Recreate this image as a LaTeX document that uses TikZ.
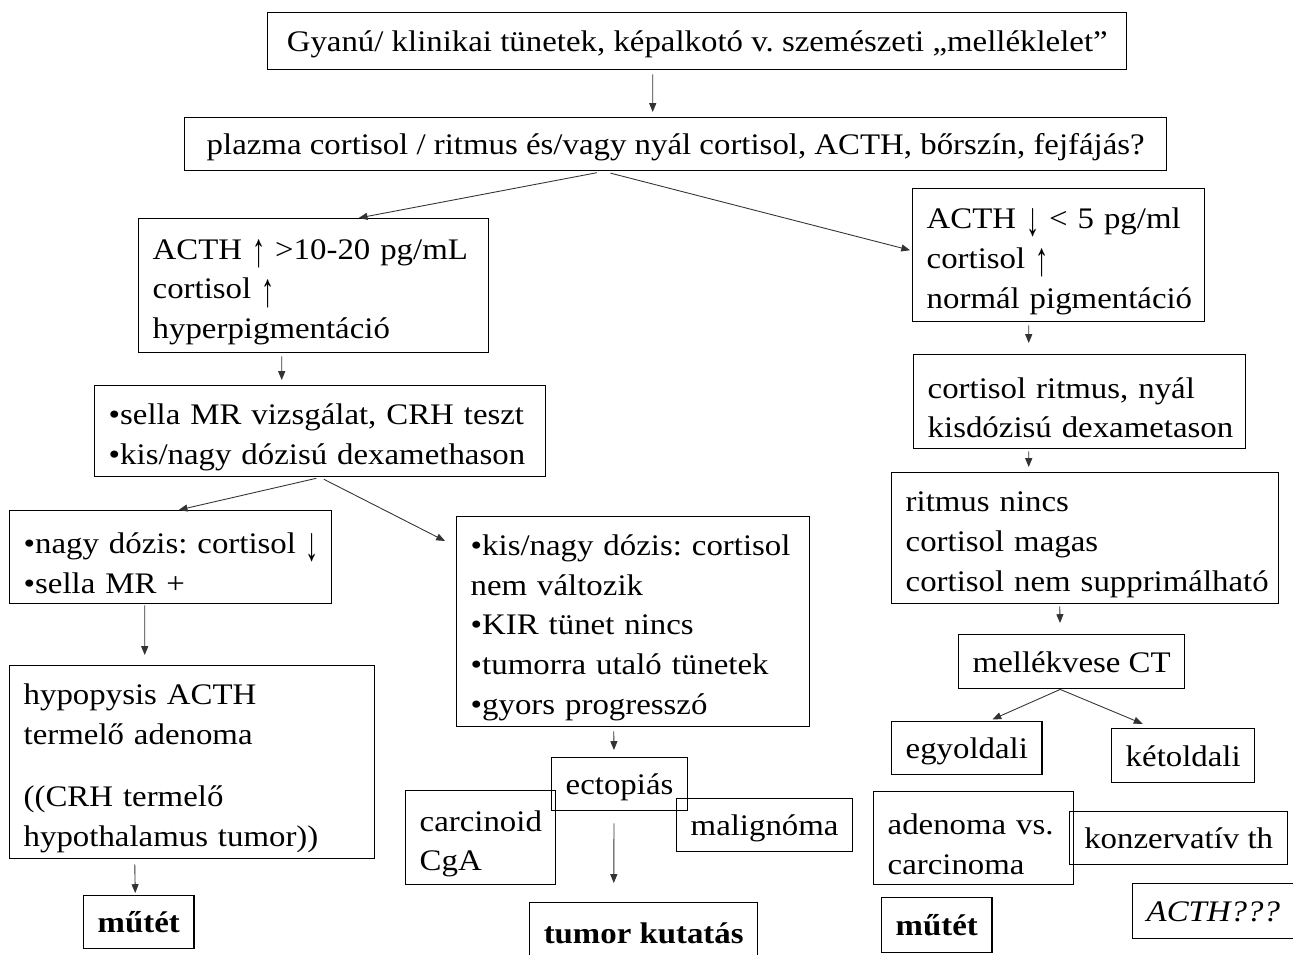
\documentclass[tikz,border=0pt]{standalone}
\usepackage{fontspec}
\setmainfont[FakeStretch=1.1]{Liberation Serif}
\usetikzlibrary{arrows.meta,positioning}

\newcommand\uparr{\raisebox{-0.24em}{\scalebox{0.8}[1.6]{↑}}}
\newcommand\downarr{\raisebox{-0.24em}{\scalebox{0.8}[1.6]{↓}}}

\tikzset{
  box/.style 2 args={draw, line width=0.8pt, anchor=north west, inner xsep=0.28cm, inner ysep=0pt,
    minimum width=#1*0.02cm, minimum height=#2*0.02cm},
  lbox/.style 2 args={box={#1}{#2}, align=left, text width=#1*0.02cm-0.56cm, text height=0.66cm,
    execute at begin node={\hyphenpenalty=10000\exhyphenpenalty=10000\hbadness=10000}},
  cbox/.style 2 args={box={#1}{#2}, align=center, text height=0.47cm, text depth=0.05cm},
  arr/.style={-{Triangle[length=5pt,width=4pt]}, line width=0.5pt, draw=black!80}
}

\begin{document}
\frenchspacing
\begin{tikzpicture}[x=0.02cm, y=-0.02cm,
    every node/.style={font=\fontsize{17pt}{22.7pt}\selectfont}]
\useasboundingbox (0,0) rectangle (1293,955);

% top
\node[cbox={859}{57}] (gyanu) at (267,12) {Gyanú/ klinikai tünetek, képalkotó v. szemészeti „melléklelet”};
\node[cbox={982}{53}] (plazma) at (184,117) {plazma cortisol / ritmus és/vagy nyál cortisol, ACTH, bőrszín, fejfájás?};

% left branch
\node[lbox={350}{134}] (acthup) at (138,218) {ACTH~\uparr~>10-20~pg/mL\\cortisol \uparr\\hyperpigmentáció};
\node[lbox={451}{91}] (sella) at (94,385) {•sella~MR~vizsgálat,~CRH~teszt\\•kis/nagy~dózisú~dexamethason};
\node[lbox={322}{93}] (nagy) at (9,510) {•nagy~dózis:~cortisol~\downarr\\•sella MR +};
\node[lbox={365}{193}] (hypo) at (9,665) {hypopysis ACTH\\termelő adenoma\\[0.44cm]((CRH termelő\\hypothalamus~tumor))};
\node[cbox={109}{53}] (muteta) at (83,895) {\bfseries műtét};
\node[lbox={353}{210}] (kisnagy) at (456,516) {•kis/nagy~dózis:~cortisol\\nem változik\\•KIR tünet nincs\\•tumorra~utaló~tünetek\\•gyors progresszó};
\node[cbox={135}{53}] (ectop) at (551,757) {ectopiás};
\node[lbox={150}{94}] (carci) at (405,790) {carcinoid\\CgA};
\node[cbox={174}{53}] (malig) at (676,798) {malignóma};
\node[cbox={228}{60}] (tumor) at (529,902) {\bfseries tumor kutatás};

% right branch
\node[lbox={292}{133}] (acthdown) at (912,188) {ACTH~\downarr~<~5~pg/ml\\cortisol \uparr\\normál~pigmentáció};
\node[lbox={332}{94}] (ritmusa) at (913,354) {cortisol~ritmus,~nyál\\kisdózisú~dexametason};
\node[lbox={387}{131}] (ritmusb) at (891,472) {ritmus nincs\\cortisol magas\\cortisol~nem~supprimálható};
\node[cbox={225}{54}] (mellek) at (958,634) {mellékvese CT};
\node[cbox={150}{53}] (egy) at (891,721) {egyoldali};
\node[cbox={143}{54}] (ket) at (1111,728) {kétoldali};
\node[lbox={200}{93}] (adenoma) at (873,791) {adenoma~vs.\\carcinoma};
\node[cbox={218}{53}] (konz) at (1069,811) {konzervatív th};
\node[cbox={160}{55}] (acthq) at (1132,883) {\itshape ACTH???};
\node[cbox={109}{55}] (mutetb) at (881,897) {\bfseries műtét};

% arrows
\draw[arr, shorten <=0.08cm, shorten >=0.1cm] ([xshift=-0.89cm]gyanu.south) -- ([xshift=-0.46cm]plazma.north);
\draw[arr, shorten <=0.14cm] ([xshift=-1.44cm]plazma.south) -- ([xshift=0.9cm]acthup.north);
\draw[arr, shorten <=0.14cm, shorten >=0.04cm] ([xshift=-1.44cm]plazma.south) -- ([yshift=0.09cm]acthdown.west);
\draw[arr, shorten <=0.06cm, shorten >=0.1cm] ([xshift=-0.64cm]acthup.south) -- ([xshift=-0.77cm]sella.north);
\draw[arr, shorten <=0.08cm] (sella.south) -- ([xshift=0.16cm]nagy.north);
\draw[arr, shorten <=0.08cm] (sella.south) -- ([xshift=-0.22cm,yshift=-0.5cm]kisnagy.north west);
\draw[arr, shorten <=0.02cm, shorten >=0.2cm] ([xshift=-0.52cm]nagy.south) -- ([xshift=-0.95cm]hypo.north);
\draw[arr, shorten <=0.1cm, shorten >=0.04cm] ([xshift=-1.15cm]hypo.south) -- ([xshift=-0.07cm]muteta.north);
\draw[arr, shorten <=0.08cm, shorten >=0.14cm] ([xshift=-0.39cm]kisnagy.south) -- ([xshift=-0.11cm]ectop.north);
\draw[arr, shorten <=0.24cm, shorten >=0.38cm] ([xshift=-0.11cm]ectop.south) -- ([xshift=-0.6cm]tumor.north);
\draw[arr, shorten <=0.06cm, shorten >=0.22cm] ([xshift=-0.6cm]acthdown.south) -- ([xshift=-1.02cm]ritmusa.north);
\draw[arr, shorten <=0.04cm, shorten >=0.1cm] ([xshift=-1.02cm]ritmusa.south) -- ([xshift=-1.13cm]ritmusb.north);
\draw[arr, shorten <=0.04cm, shorten >=0.22cm] ([xshift=-0.51cm]ritmusb.south) -- ([xshift=-0.23cm]mellek.north);
\draw[arr, shorten >=0.08cm] ([xshift=-0.23cm]mellek.south) -- ([xshift=0.44cm]egy.north);
\draw[arr, shorten >=0.22cm] ([xshift=-0.23cm]mellek.south) -- ([xshift=-0.61cm]ket.north);
\end{tikzpicture}
\end{document}
